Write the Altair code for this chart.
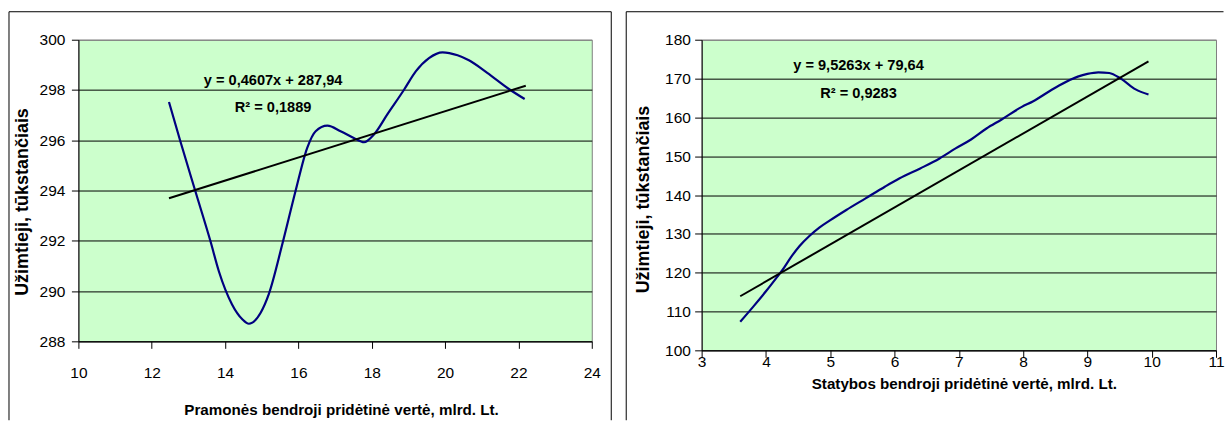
import altair as alt
import pandas as pd

# ---- Left panel: industry ----
ind_x = [12.47, 12.78, 13.19, 13.60, 13.83, 14.19, 14.47, 14.65, 14.97, 15.19, 15.56, 15.92,
         16.24, 16.47, 16.79, 17.15, 17.51, 17.79, 18.06, 18.42, 18.88, 19.20, 19.56, 19.93,
         20.34, 20.65, 21.15, 21.74, 22.17]
ind_y = [297.52, 295.96, 293.97, 291.99, 290.79, 289.47, 288.88, 288.70, 289.14, 289.87, 291.86, 293.97,
         295.70, 296.36, 296.58, 296.36, 296.09, 295.92, 296.23, 297.02, 298.01, 298.74, 299.27, 299.50,
         299.38, 299.18, 298.68, 298.04, 297.64]
ind_trend_x = [12.47, 22.2]
ind_trend_y = [293.69, 298.17]
ind_eq_text = ["y = 0,4607x + 287,94", "R² = 0,1889"]
ind_eq_x = [15.31, 15.31]
ind_eq_y = [298.37, 297.29]

# ---- Right panel: construction ----
con_x = [3.60, 3.80, 4.00, 4.16, 4.26, 4.39, 4.52, 4.68, 4.83, 4.99, 5.25, 5.55, 5.85, 6.08,
         6.40, 6.70, 6.95, 7.19, 7.43, 7.66, 7.98, 8.15, 8.52, 8.85, 9.00, 9.17, 9.34, 9.52,
         9.75, 9.95]
con_y = [107.36, 111.2, 115.2, 118.6, 120.77, 124.0, 126.8, 129.5, 131.6, 133.4, 136.15, 139.14,
         142.14, 144.3, 146.85, 149.42, 152.0, 154.3, 157.13, 159.4, 162.7, 164.1, 167.84, 170.5,
         171.2, 171.6, 171.43, 169.98, 167.2, 165.9]
con_trend_x = [3.6, 9.95]
con_trend_y = [113.93, 174.43]
con_eq_text = ["y = 9,5263x + 79,64", "R² = 0,9283"]
con_eq_x = [5.44, 5.44]
con_eq_y = [173.2, 166.05]

Y_TITLE = "Užimtieji, tūkstančiais"
FONT = "Liberation Sans"
BLUE = "#000080"


def panel(xs, ys, tx, ty, eqt, eqx, eqy, xdom, xticks, ydom, yticks, xtitle,
          w, h, xt_x, xt_y, xl_pad, yt_x, yt_y, yl_pad, borders):
    xscale = alt.Scale(domain=xdom, nice=False, zero=False)
    yscale = alt.Scale(domain=ydom, nice=False, zero=False)
    xaxis = alt.Axis(values=xticks, tickCount=len(xticks), format="d", title=xtitle, grid=False,
                     labelBaseline="middle", labelPadding=xl_pad, titleX=xt_x, titleY=xt_y,
                     titleAlign="center", titleBaseline="alphabetic", labelFlush=False,
                     labelOverlap=False)
    yaxis = alt.Axis(values=yticks, tickCount=len(yticks), format="d", title=Y_TITLE, grid=True,
                     gridColor=alt.condition(f"datum.value >= {ydom[1]}", alt.value("#808080"),
                                             alt.value("black")),
                     labelPadding=yl_pad, titleX=yt_x, titleY=yt_y, titleAngle=270,
                     titleAlign="center", titleBaseline="middle", titleFontSize=18,
                     labelOverlap=False)
    curve = alt.Chart(pd.DataFrame({"x": xs, "y": ys})).mark_line(
        color=BLUE, strokeWidth=2.2, interpolate="monotone"
    ).encode(x=alt.X("x:Q", scale=xscale, axis=xaxis), y=alt.Y("y:Q", scale=yscale, axis=yaxis))
    trend = alt.Chart(pd.DataFrame({"x": tx, "y": ty})).mark_line(
        color="black", strokeWidth=2
    ).encode(x="x:Q", y="y:Q")
    text = alt.Chart(pd.DataFrame({"x": eqx, "y": eqy, "t": eqt})).mark_text(
        font=FONT, fontSize=14.6, fontWeight="bold", align="center", baseline="middle", color="black"
    ).encode(x="x:Q", y="y:Q", text="t:N")
    one = pd.DataFrame({"k": [0]})
    layers = [curve, trend, text]
    for b in borders:
        r = alt.Chart(one).mark_rule(color="black", strokeWidth=1)
        if b[0] == "v":
            r = r.encode(x=alt.value(b[1]), y=alt.value(b[2]), y2=alt.value(b[3]))
        else:
            r = r.encode(y=alt.value(b[1]), x=alt.value(b[2]), x2=alt.value(b[3]))
        layers.append(r)
    return alt.layer(*layers).properties(width=w, height=h)


left = panel(ind_x, ind_y, ind_trend_x, ind_trend_y, ind_eq_text, ind_eq_x, ind_eq_y,
             [10, 24], list(range(10, 25, 2)), [288, 300], list(range(288, 301, 2)),
             "Pramonės bendroji pridėtinė vertė, mlrd. Lt.",
             514, 302, 263, 73.3, 23.8, -56, 162, 6.5,
             [("v", -69.5, -28, 381), ("h", -28, -69.5, 533.5), ("v", 533.5, -28, 381)])

right = panel(con_x, con_y, con_trend_x, con_trend_y, con_eq_text, con_eq_x, con_eq_y,
              [3, 11], list(range(3, 12)), [100, 180], list(range(100, 181, 10)),
              "Statybos bendroji pridėtinė vertė, mlrd. Lt.",
              515, 311, 262.5, 37.8, 4.3, -58.5, 159.5, 4.3,
              [("v", -75.5, -28, 381), ("h", -28, -75.5, 522.5)])

chart = alt.hconcat(left, right, spacing=110, bounds="flush").properties(
    padding={"left": 7.5, "top": 10.5, "right": 0, "bottom": 0},
    background="white",
).configure_view(
    fill="#CCFFCC", stroke="#808080", strokeWidth=1
).configure_axis(
    domainColor="black", domainWidth=1, tickColor="black", tickWidth=1, tickSize=7,
    gridWidth=1, gridOpacity=1,
    labelColor="black", labelFont=FONT, labelFontSize=15.5,
    titleColor="black", titleFont=FONT, titleFontSize=15.2, titleFontWeight="bold",
)

chart.save("out.html", embed_options={"renderer": "svg", "actions": False})
